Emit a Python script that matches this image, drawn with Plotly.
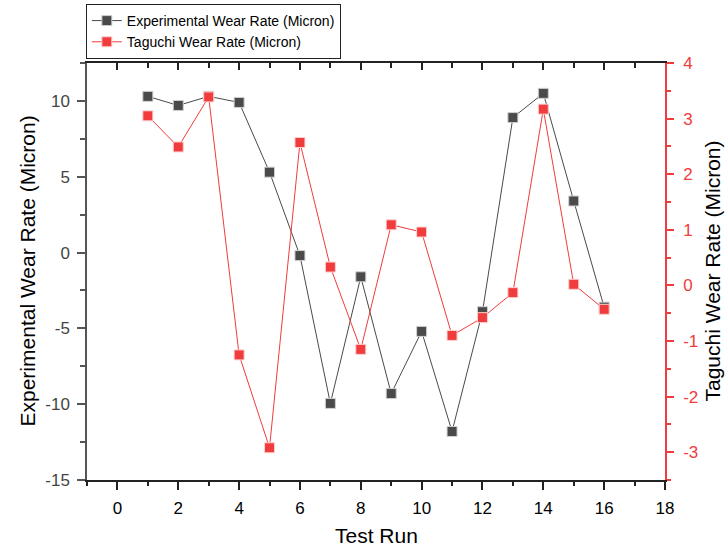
import plotly.graph_objects as go

test_run = [1, 2, 3, 4, 5, 6, 7, 8, 9, 10, 11, 12, 13, 14, 15, 16]
experimental = [10.3, 9.7, 10.3, 9.9, 5.3, -0.2, -9.95, -1.6, -9.3, -5.2, -11.8, -3.9, 8.9, 10.5, 3.4, -3.6]
taguchi = [3.05, 2.49, 3.39, -1.25, -2.92, 2.57, 0.33, -1.15, 1.09, 0.96, -0.9, -0.58, -0.13, 3.17, 0.02, -0.43]

x_ticks = [0, 2, 4, 6, 8, 10, 12, 14, 16, 18]
x_labels = ["0", "2", "4", "6", "8", "10", "12", "14", "16", "18"]
left_ticks = [-15, -10, -5, 0, 5, 10]
left_labels = ["-15", "-10", "-5", "0", "5", "10"]
right_ticks = [-3, -2, -1, 0, 1, 2, 3, 4]
right_labels = ["-3", "-2", "-1", "0", "1", "2", "3", "4"]

x_title = "Test Run"
left_title = "Experimental Wear Rate (Micron)"
right_title = "Taguchi Wear Rate (Micron)"

FONT = "Arial, Liberation Sans, sans-serif"
GRAY = "#4a4a4a"
RED = "#f03c3c"

fig = go.Figure()
fig.add_trace(go.Scatter(
    x=test_run, y=experimental, mode="lines+markers",
    name=left_title,
    line=dict(color=GRAY, width=1),
    marker=dict(symbol="square", size=10, color=GRAY, line=dict(color="#d0d0d0", width=1)),
    xaxis="x", yaxis="y",
))
fig.add_trace(go.Scatter(
    x=test_run, y=taguchi, mode="lines+markers",
    name=right_title,
    line=dict(color=RED, width=1),
    marker=dict(symbol="square", size=10, color=RED, line=dict(color="#ffd0d0", width=1)),
    xaxis="x", yaxis="y2",
))
# dummy trace so the top (mirror) axis is drawn
fig.add_trace(go.Scatter(x=[None], y=[None], xaxis="x2", yaxis="y2", showlegend=False, hoverinfo="skip"))

fig.update_layout(
    width=726, height=546,
    margin=dict(l=87, r=61, t=63, b=66, autoexpand=False),
    paper_bgcolor="white", plot_bgcolor="white",
    font=dict(family=FONT, color="black"),
    showlegend=True,
    legend=dict(x=-0.002, y=1.1415, xanchor="left", yanchor="top",
                bordercolor="#222", borderwidth=1, bgcolor="white",
                font=dict(size=14, family=FONT), tracegroupgap=0,
                itemwidth=30),
    xaxis=dict(
        range=[-1, 18], tickvals=x_ticks, ticktext=x_labels, ticks="outside", ticklen=8, tickwidth=1.5,
        tickcolor="#222", showline=True, linecolor="#222", linewidth=1.5,
        showgrid=False, zeroline=False, ticklabelstandoff=4,
        tickfont=dict(size=17, color="black"),
        minor=dict(dtick=1, tick0=0, ticks="outside", ticklen=4, tickcolor="#222", tickwidth=1.5),
    ),
    xaxis2=dict(
        overlaying="x", side="top", anchor="y2", range=[-1, 18], tickvals=x_ticks,
        ticks="inside", ticklen=7, tickwidth=1.5, tickcolor="#222",
        showline=True, linecolor="#222", linewidth=1.5, showticklabels=False,
        showgrid=False, zeroline=False,
        minor=dict(dtick=1, tick0=0, ticks="inside", ticklen=5, tickcolor="#222", tickwidth=1.5),
    ),
    yaxis=dict(
        range=[-15, 12.5], tickvals=left_ticks, ticktext=left_labels, ticks="outside", ticklen=8, tickwidth=1.5,
        tickcolor="#555", showline=True, linecolor="#555", linewidth=1.5,
        showgrid=False, zeroline=False, ticklabelstandoff=4,
        tickfont=dict(size=17, color="#444"),
        minor=dict(dtick=2.5, tick0=0, ticks="outside", ticklen=5, tickcolor="#555", tickwidth=1.5),
    ),
    yaxis2=dict(
        overlaying="y", side="right", anchor="x",
        range=[-3.5, 4], tickvals=right_ticks, ticktext=right_labels, ticks="outside", ticklen=7, tickwidth=1.5,
        tickcolor=RED, showline=True, linecolor=RED, linewidth=1.5,
        showgrid=False, zeroline=False, ticklabelstandoff=6,
        tickfont=dict(size=17, color=RED),
        minor=dict(dtick=0.5, tick0=0, ticks="outside", ticklen=4, tickcolor=RED, tickwidth=1.5),
    ),
    annotations=[
        dict(text=x_title, xref="paper", yref="paper", x=0.5, y=0, yshift=-55,
             xanchor="center", yanchor="middle", showarrow=False,
             font=dict(size=21, color="black", family=FONT)),
        dict(text=left_title, xref="paper", yref="paper", x=0, y=0.5, xshift=-60,
             xanchor="center", yanchor="middle", textangle=-90, showarrow=False,
             font=dict(size=21, color="black", family=FONT)),
        dict(text=right_title, xref="paper", yref="paper", x=1, y=0.5, xshift=47,
             xanchor="center", yanchor="middle", textangle=-90, showarrow=False,
             font=dict(size=21, color="black", family=FONT)),
    ],
)

fig.write_html("out.html")
